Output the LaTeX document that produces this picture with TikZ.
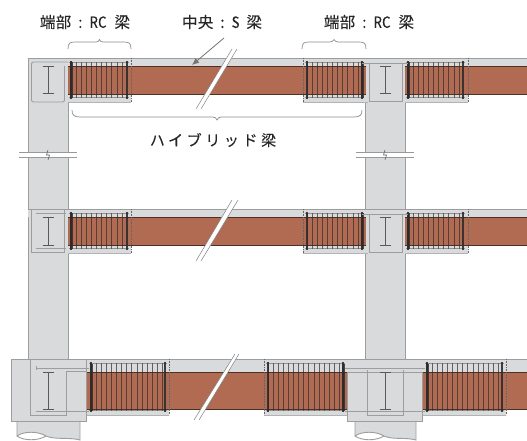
\documentclass[tikz,border=0pt]{standalone}
\usepackage{graphicx}
\usepackage{fontspec}
\usetikzlibrary{arrows.meta}
\newfontfamily\jpfont{Noto Sans CJK JP}[LetterSpace=2,FakeBold=0.15]
\newfontfamily\jpwide{Noto Sans CJK JP}[LetterSpace=24,FakeBold=0.15]
\definecolor{concrete}{HTML}{D9DADC}
\definecolor{edgegrey}{HTML}{9C9D9F}
\definecolor{softedge}{HTML}{B2B3B5}
\definecolor{steel}{HTML}{B06B52}
\definecolor{bardark}{HTML}{2F2B2B}
\tikzset{
  conc/.style={fill=concrete,draw=edgegrey,line width=0.9pt},
  flange/.style={draw=black!65,line width=0.9pt},
  thin box/.style={draw=edgegrey,line width=0.9pt},
  bar/.style={draw=bardark,line width=0.7pt,opacity=0.7},
  hbar/.style={draw=bardark!80,line width=0.7pt,opacity=0.55},
  endbar/.style={draw=bardark,line width=1.6pt,opacity=0.9},
  fatbar/.style={draw=bardark,line width=3pt,opacity=0.85},
  dotline/.style={draw=black!60,line width=0.6pt,densely dotted},
  bracket/.style={draw=black!45,line width=0.7pt},
  label text/.style={font=\jpfont\fontsize{15.5}{16}\selectfont,text=black!85,inner sep=0pt},
}
% x0 x1 (grey block), a b (bars), top bot (block), bt bb (brown)
\newcommand{\rcpart}[8]{%
  \fill[concrete] (#1,#5) rectangle (#2,#6);
  \draw[softedge,line width=0.9pt] (#1,#6) -- (#2,#6);
  \fill[steel] (#1,#7) rectangle (#2,#8);
  \draw[black!55!steel,line width=0.9pt] (#1,#7) -- (#2,#7) (#1,#8) -- (#2,#8);
  \foreach \xx in {0,...,40}{%
    \pgfmathsetmacro{\px}{#3+\xx*5.1}
    \pgfmathparse{\px<#4?1:0}
    \ifnum\pgfmathresult=1 \draw[bar] (\px,#5+4) -- (\px,#6-4); \fi
  }
  \draw[hbar] (#3-2,#5+4.5) -- (#4+2,#5+4.5) (#3-2,#6-4.5) -- (#4+2,#6-4.5);
  \draw[endbar] (#3,#5+3) -- (#3,#6-3) (#4,#5+3) -- (#4,#6-3);
}
\newcommand{\ibeam}[3]{% cx top bot
  \draw[flange] (#1,#2) -- (#1,#3) (#1-5.5,#2) -- (#1+5.5,#2) (#1-5.5,#3) -- (#1+5.5,#3);
}
\newcommand{\cutmark}[8]{% two-line white cut
  \fill[white] (#1,#2) -- (#3,#4) -- (#5,#6) -- (#7,#8) -- cycle;
  \draw[black!50,line width=0.5pt] (#1,#2) -- (#7,#8) (#3,#4) -- (#5,#6);
}
\newcommand{\colbreak}[2]{% cx y
  \fill[white] (#1-29,#2-2.5) rectangle (#1+29,#2+2.5);
  \draw[black!40,line width=0.7pt] (#1-29,#2-2.8) -- (#1+29,#2-2.8) (#1-29,#2+2.8) -- (#1+29,#2+2.8);
  \draw[black!60,line width=0.6pt] (#1,#2-5) -- (#1-1.5,#2) -- (#1+1.5,#2) -- (#1,#2+5);
}
\newcommand{\rctext}{端部\hspace{7pt}:\hspace{7pt}\scalebox{0.85}[1]{RC}\hspace{8pt}梁}
\begin{document}
\begin{tikzpicture}[x=1pt,y=-1pt]
\useasboundingbox (0,0) rectangle (527,440);
\begin{scope}
\clip (0,0) rectangle (527,440);
% columns
\draw[conc] (28,58) rectangle (68,380);
\draw[conc] (365,60) rectangle (405,380);
\colbreak{48}{155}
\colbreak{385}{155}
% piles
\fill[concrete] (17,421) -- (17,436) .. controls (24,431) and (38,431) .. (46,436) .. controls (55,440) and (70,437) .. (80,440) -- (80,421) -- cycle;
\draw[thin box] (17,421) -- (17,436) .. controls (24,431) and (38,431) .. (46,436) .. controls (55,440) and (70,437) .. (80,440) -- (80,421);
\draw[thin box] (17,436) .. controls (24,441) and (38,441) .. (46,436);
\fill[concrete] (355,421) -- (355,436) .. controls (362,431) and (376,431) .. (384,436) .. controls (393,440) and (405,437) .. (416,440) -- (416,421) -- cycle;
\draw[thin box] (355,421) -- (355,436) .. controls (362,431) and (376,431) .. (384,436) .. controls (393,440) and (405,437) .. (416,440) -- (416,421);
\draw[thin box] (355,436) .. controls (362,441) and (376,441) .. (384,436);
% row 1 and row 2 and row 3 slab and beam
\foreach \ytop/\ybt/\ybb in {58/66/94,209/217/245}{%
  \fill[concrete] (28,\ytop) rectangle (527,\ybt);
  \fill[steel] (68,\ybt) rectangle (527,\ybb);
  \draw[black!55!steel,line width=0.9pt] (68,\ybt) -- (527,\ybt) (68,\ybb) -- (527,\ybb);
}
\fill[concrete] (11,359) rectangle (527,372);
\fill[steel] (86,372) rectangle (527,409);
\draw[black!55!steel,line width=0.9pt] (86,372) -- (527,372) (86,409) -- (527,409);
% RC parts rows 1 and 2
\rcpart{68}{131}{71}{127}{58}{102}{66}{94}
\rcpart{303}{368}{307}{362}{58}{102}{66}{94}
\rcpart{405}{468}{408}{463}{58}{102}{66}{94}
\rcpart{68}{131}{71}{127}{209}{253}{217}{245}
\rcpart{303}{368}{307}{362}{209}{253}{217}{245}
\rcpart{405}{468}{408}{463}{209}{253}{217}{245}
% RC parts row 3
\rcpart{86}{169}{91}{165}{359}{415}{372}{409}
\rcpart{264}{347}{268}{343}{359}{415}{372}{409}
\rcpart{422}{506}{427}{502}{359}{415}{372}{409}
% column-side heavy bars
\foreach \xf/\ya/\yb in {71/62/98,362/62/98,408/62/98,71/213/249,362/213/249,408/213/249,91/364/411,343/364/411,427/364/411}{
  \draw[fatbar] (\xf,\ya) -- (\xf,\yb);
}
% joints rows 1, 2
\fill[concrete] (28.5,58.5) rectangle (67.5,102);
\draw[edgegrey,line width=0.9pt] (28,58) -- (527,58);
\draw[edgegrey,line width=0.9pt] (28,58) -- (28,110) (68,102) -- (68,110);
\draw[thin box,rounded corners=2pt] (64.5,66) -- (64.5,102) -- (31.5,102) -- (31.5,62) -- (68,62);
\ibeam{48}{66}{93}
\fill[concrete] (365.5,58.5) rectangle (404.5,102);
\draw[thin box] (369,63) -- (369,101) -- (402,101) -- (402,63);
\draw[thin box] (362,63) -- (408,63);
\ibeam{385.5}{66}{93}
\fill[concrete] (28.5,209.5) rectangle (67.5,253);
\draw[thin box] (31.5,209) rectangle (64.5,252);
\draw[edgegrey,line width=0.9pt] (28,209) -- (527,209);
\draw[thin box] (36,213) -- (66,213) (36,248) -- (66,248);
\ibeam{48}{217}{245}
\fill[concrete] (365.5,209.5) rectangle (404.5,253);
\draw[thin box] (369,214) -- (369,252) -- (402,252) -- (402,214);
\draw[thin box] (362,214) -- (408,214);
\ibeam{385.5}{217}{245}
% joints row 3
\draw[conc] (11,359) rectangle (86,421);
\draw[thin box] (30,359) -- (30,415) -- (66,415) -- (66,371);
\draw[thin box] (36,368) -- (89,368) (36,411) -- (89,411) (36,366) -- (36,370);
\draw[thin box] (66,371) -- (86,371);
\ibeam{48.5}{372}{409}
\draw[conc] (347,372) rectangle (422,421);
\draw[edgegrey,line width=0.9pt] (11,359) -- (527,359);
\draw[thin box] (367,370) -- (367,415) -- (403,415) -- (403,370);
\draw[thin box] (345,368) -- (425,368) (345,411) -- (425,411);
\ibeam{385}{372}{409}
% dotted limits
\foreach \xd/\ya/\yb in {131/58/102,303/58/102,468/58/102,131/209/253,303/209/253,468/209/253,169/359/415,264/359/415,506/359/415}{
  \draw[dotline] (\xd,\ya) -- (\xd,\yb);
}
% cut marks
\cutmark{232}{49}{237}{49}{201}{109}{196}{109}
\cutmark{232}{200}{238}{200}{201}{261}{196}{261}
\cutmark{235}{354}{239}{354}{199}{420}{194}{420}
\end{scope}
% brackets
\draw[bracket] (68,49) .. controls (68,43) and (70,42) .. (75,42) -- (96,42) .. controls (98,42) and (99,41) .. (99.5,39.5) .. controls (100,41) and (101,42) .. (103,42) -- (124,42) .. controls (129,42) and (131,43) .. (131,49);
\draw[bracket] (302,49) .. controls (302,43) and (304,42) .. (309,42) -- (330,42) .. controls (332,42) and (333,41) .. (334,39.5) .. controls (335,41) and (336,42) .. (338,42) -- (359,42) .. controls (364,42) and (366,43) .. (366,49);
\draw[bracket] (72,110) .. controls (72,115) and (74,117) .. (80,117) -- (213,117) .. controls (215,117) and (216,118) .. (217,120) .. controls (218,118) and (219,117) .. (221,117) -- (354,117) .. controls (360,117) and (362,115) .. (362,110);
% texts
\node[label text] (left label) at (85,22) {\rctext};
\node[label text] (mid label) at (222,22) {中央\hspace{7pt}:\hspace{7pt}\scalebox{0.85}[1]{S}\hspace{7pt}梁};
\node[label text] (right label) at (369,22) {\rctext};
\node[label text,font=\jpwide\fontsize{15}{16}\selectfont] (hybrid label) at (213,140) {ハイブリッド梁};
% arrow to slab
\coordinate (slab point) at (192,65);
\coordinate (arrow tail) at (224,38);
\draw[black!55,line width=0.8pt,-{Latex[length=7pt,width=6pt]}] (arrow tail) -- (slab point);
\end{tikzpicture}
\end{document}
